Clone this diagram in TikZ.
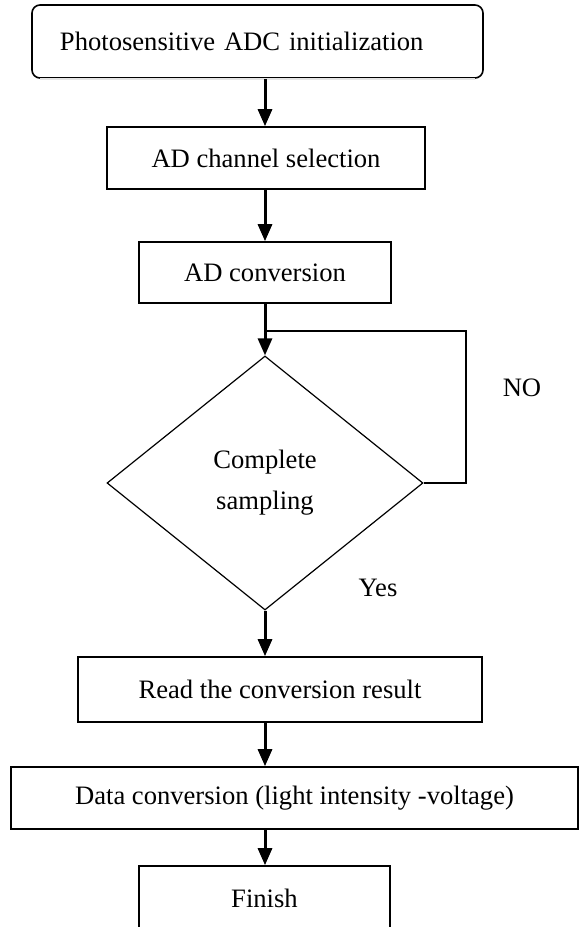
\documentclass[tikz,border=0pt]{standalone}
\usepackage{fontspec}
\setmainfont{Liberation Serif}
\usetikzlibrary{arrows.meta, shapes.geometric}
\tikzset{
  every picture/.style={font=\fontsize{13.3}{16}\selectfont},
  box/.style={draw=black, line width=0.8pt, fill=white, align=center, inner sep=0pt},
  arrow/.style={-{Triangle[length=8.5pt, width=7pt]}, draw=black, line width=1.5pt},
  note/.style={font=\fontsize{13.3}{16}\selectfont, inner sep=0pt},
}

\begin{document}
\begin{tikzpicture}[x=0.5pt, y=-0.5pt,
    start/.style={box, rounded corners=4pt, minimum width=225.5pt, minimum height=36.5pt,
                  inner xsep=14pt, text width=197.5pt, align=left},
    decide/.style={diamond, draw=black, line width=0.6pt, minimum width=158pt, minimum height=127pt,
                   inner sep=0pt, align=center}]
  \useasboundingbox (0,0) rectangle (579,927);
  \coordinate (spine) at (265,0);

  \node[start] (init) at (257.5,41.5) {Photosensitive ADC initialization};
  \draw[line width=1pt, black!10] ([xshift=4.5pt]init.south west) -- ([xshift=-4.5pt]init.south east);

  \node[box, minimum width=159pt, minimum height=31pt] (chan) at (266,158) {AD channel selection};
  \node[box, minimum width=126pt, minimum height=30.5pt] (conv) at (265,272.5) {AD conversion};

  % ---- test: loop back until sampling is done
  \node[decide] (dec) at (265,483) {Complete\\[4.5pt]sampling};
  \coordinate (join) at (265,331);
  \draw[line width=1pt] (dec.east) -- ++(42,0) |- (join);
  \node[note] (no) at (522,388) {NO};
  \node[note] (yes) at (378,588) {Yes};

  \node[box, minimum width=202pt, minimum height=32.5pt] (read) at (280,689.5) {Read the conversion result};
  \node[box, minimum width=283.5pt, minimum height=31pt] (data) at (294.5,798) {Data conversion (light intensity -voltage)};
  \node[box, minimum width=125.5pt, minimum height=32pt] (fin) at (264.5,898) {Finish};

  % ---- arrows down the middle
  \foreach \a/\b in {init/chan, chan/conv, conv/dec, dec/read, read/data, data/fin}
    \draw[arrow] (\a.south -| spine) -- (\b.north -| spine);
\end{tikzpicture}
\end{document}
